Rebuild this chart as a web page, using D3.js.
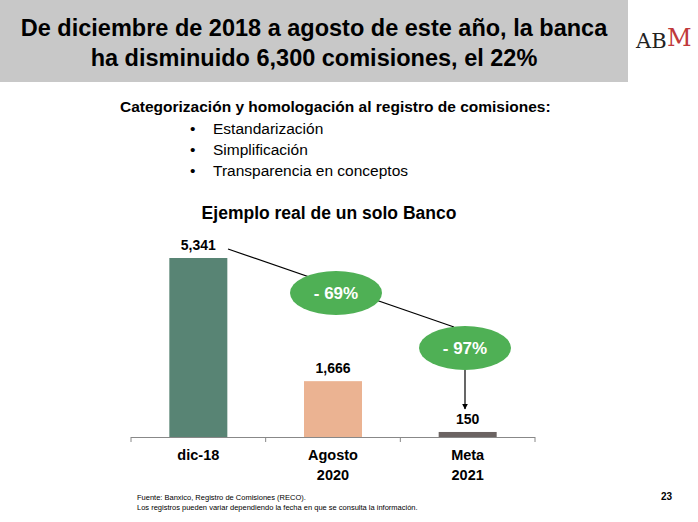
<!DOCTYPE html>
<html><head><meta charset="utf-8">
<script src="https://cdn.jsdelivr.net/npm/d3@7"></script>
<style>body{margin:0;background:#fff}svg{display:block;font-family:"Liberation Sans",Arial,sans-serif}</style>
</head><body><svg id="c" width="698" height="522"></svg>
<script>
const categories = [["dic-18"], ["Agosto", "2020"], ["Meta", "2021"]];
const values = [5341, 1666, 150];
const labels = ["5,341", "1,666", "150"];
const colors = ["#588474", "#ebb392", "#6b6362"];
const bullets = ["Estandarización", "Simplificación", "Transparencia en conceptos"];
const changes = ["- 69%", "- 97%"];

const svg = d3.select("#c");
// header
svg.append("rect").attr("x", 0).attr("y", 0).attr("width", 628).attr("height", 82).attr("fill", "#c8c8c8");
svg.append("text").attr("x", 314).attr("y", 36).attr("text-anchor", "middle").attr("font-size", 23.5).attr("font-weight", "bold")
  .text("De diciembre de 2018 a agosto de este año, la banca");
svg.append("text").attr("x", 314).attr("y", 66).attr("text-anchor", "middle").attr("font-size", 23.5).attr("font-weight", "bold")
  .text("ha disminuido 6,300 comisiones, el 22%");
// logo
svg.append("text").attr("x", 636).attr("y", 48).attr("font-family", "DejaVu Serif").attr("font-size", 21).attr("fill", "#222").text("AB");
svg.append("text").attr("x", 667).attr("y", 46).attr("font-family", "DejaVu Serif").attr("font-size", 24).attr("fill", "#c0393b").text("M");

svg.append("text").attr("x", 120).attr("y", 112).attr("font-size", 15.5).attr("font-weight", "bold")
  .text("Categorización y homologación al registro de comisiones:");
bullets.forEach((b, i) => {
  svg.append("text").attr("x", 190).attr("y", 134 + i * 21).attr("font-size", 15.5).text("•");
  svg.append("text").attr("x", 213).attr("y", 134 + i * 21).attr("font-size", 15.5).text(b);
});
svg.append("text").attr("x", 329).attr("y", 219).attr("text-anchor", "middle").attr("font-size", 17.5).attr("font-weight", "bold")
  .text("Ejemplo real de un solo Banco");

// chart
const x = d3.scaleBand().domain(d3.range(3)).range([131, 535]);
const y = d3.scaleLinear().domain([0, 5341]).range([437, 258]);
const bw = 58;
svg.selectAll(".bar").data(values).join("rect")
  .attr("x", (d, i) => x(i) + x.bandwidth() / 2 - bw / 2).attr("y", d => y(d))
  .attr("width", bw).attr("height", d => 437 - y(d)).attr("fill", (d, i) => colors[i]);
svg.append("line").attr("x1", 131).attr("x2", 535).attr("y1", 437.5).attr("y2", 437.5).attr("stroke", "#888").attr("stroke-width", 1.2);
[0, 1, 2, 3].forEach(i => {
  const xx = i < 3 ? x(i) : 535;
  svg.append("line").attr("x1", xx).attr("x2", xx).attr("y1", 437).attr("y2", 442).attr("stroke", "#888");
});
svg.selectAll(".vl").data(values).join("text")
  .attr("x", (d, i) => x(i) + x.bandwidth() / 2).attr("y", d => y(d) - 8)
  .attr("text-anchor", "middle").attr("font-size", 14).attr("font-weight", "bold").text((d, i) => labels[i]);
categories.forEach((c, i) => {
  c.forEach((t, j) => svg.append("text").attr("x", x(i) + x.bandwidth() / 2).attr("y", 460 + j * 20)
    .attr("text-anchor", "middle").attr("font-size", 14.5).attr("font-weight", "bold").text(t));
});

// trend line and badges
const c1 = [336, 293], c2 = [465, 348];
svg.append("line").attr("x1", 228).attr("y1", 249).attr("x2", 454).attr("y2", 327).attr("stroke", "#000").attr("stroke-width", 1.2);
svg.append("defs").append("marker").attr("id", "ah").attr("viewBox", "0 0 10 10").attr("refX", 9).attr("refY", 5)
  .attr("markerWidth", 5).attr("markerHeight", 5).attr("orient", "auto")
  .append("path").attr("d", "M0,0L10,5L0,10z").attr("fill", "#000");
svg.append("line").attr("x1", c2[0]).attr("y1", 368).attr("x2", c2[0]).attr("y2", 409).attr("stroke", "#000")
  .attr("stroke-width", 1.2).attr("marker-end", "url(#ah)");
[c1, c2].forEach((c, i) => {
  svg.append("ellipse").attr("cx", c[0]).attr("cy", c[1]).attr("rx", 46).attr("ry", 22).attr("fill", "#4fb055");
  svg.append("text").attr("x", c[0]).attr("y", c[1] + 6).attr("text-anchor", "middle").attr("font-size", 17)
    .attr("font-weight", "bold").attr("fill", "#fff").text(changes[i]);
});

// footer
svg.append("text").attr("x", 137).attr("y", 500).attr("font-size", 7.5).text("Fuente: Banxico, Registro de Comisiones (RECO).");
svg.append("text").attr("x", 137).attr("y", 510).attr("font-size", 7.5).text("Los registros pueden variar dependiendo la fecha en que se consulta la información.");
svg.append("text").attr("x", 672).attr("y", 500).attr("text-anchor", "end").attr("font-size", 10).attr("font-weight", "bold").text("23");
</script></body></html>
